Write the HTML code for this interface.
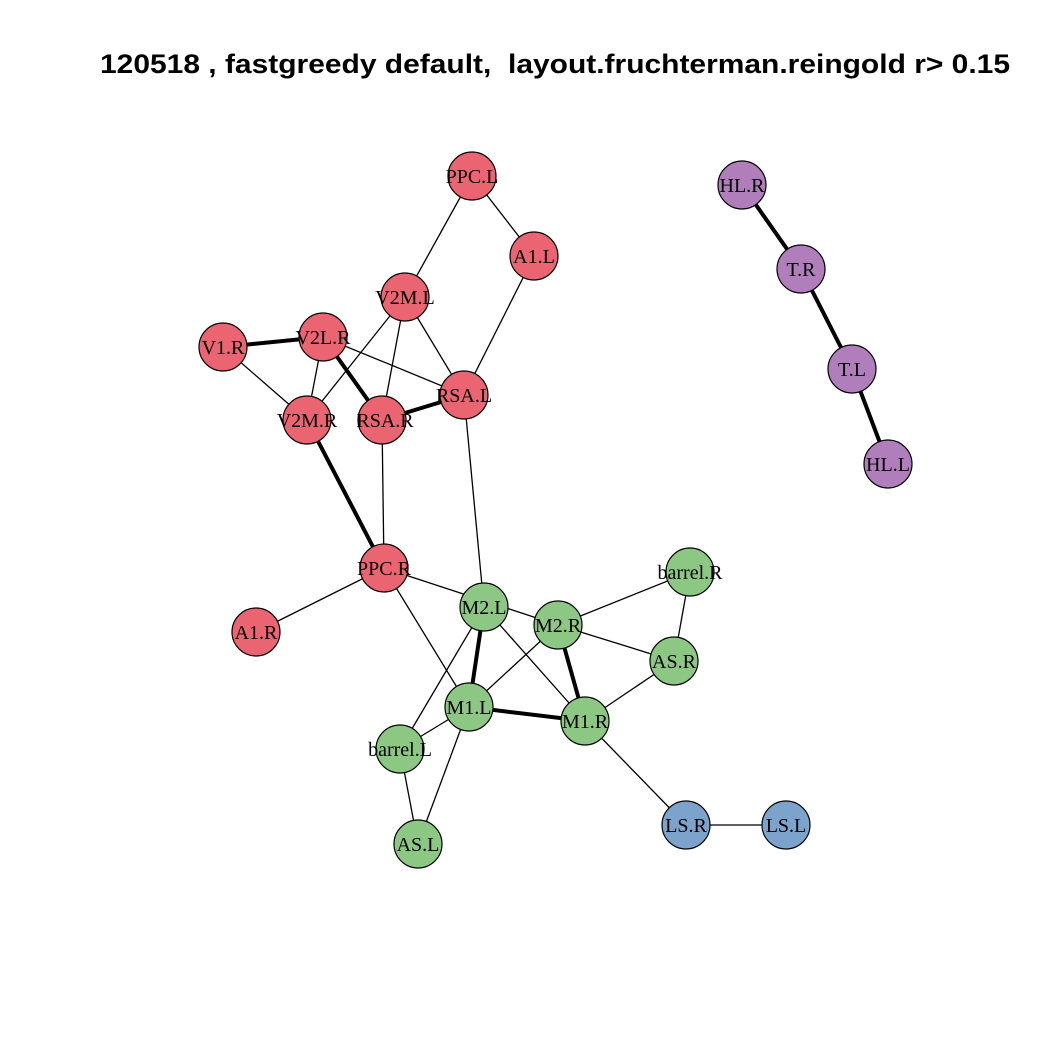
<!DOCTYPE html>
<html><head><meta charset="utf-8"><style>body{margin:0;background:#fff}svg{display:block}</style></head>
<body>
<svg width="1049" height="1049" viewBox="0 0 1049 1049" xmlns="http://www.w3.org/2000/svg">
<rect width="1049" height="1049" fill="#fff"/>
<text x="100" y="73" textLength="910" lengthAdjust="spacingAndGlyphs" xml:space="preserve" style="white-space:pre" font-family="Liberation Sans, sans-serif" font-weight="bold" font-size="27">120518 , fastgreedy default,  layout.fruchterman.reingold r&gt; 0.15</text>
<g stroke="#000" stroke-width="1.3">
<line x1="472" y1="176" x2="405" y2="297"/>
<line x1="472" y1="176" x2="534" y2="256"/>
<line x1="534" y1="256" x2="464" y2="395"/>
<line x1="405" y1="297" x2="464" y2="395"/>
<line x1="405" y1="297" x2="307" y2="420"/>
<line x1="405" y1="297" x2="382" y2="420"/>
<line x1="223" y1="347" x2="307" y2="420"/>
<line x1="323" y1="337" x2="464" y2="395"/>
<line x1="323" y1="337" x2="307" y2="420"/>
<line x1="464" y1="395" x2="484" y2="607"/>
<line x1="382" y1="420" x2="384" y2="568"/>
<line x1="384" y1="568" x2="256" y2="632"/>
<line x1="384" y1="568" x2="558" y2="625"/>
<line x1="384" y1="568" x2="469" y2="707"/>
<line x1="484" y1="607" x2="585" y2="721"/>
<line x1="484" y1="607" x2="400" y2="749"/>
<line x1="558" y1="625" x2="469" y2="707"/>
<line x1="558" y1="625" x2="690" y2="572"/>
<line x1="558" y1="625" x2="674" y2="661"/>
<line x1="690" y1="572" x2="674" y2="661"/>
<line x1="674" y1="661" x2="585" y2="721"/>
<line x1="469" y1="707" x2="400" y2="749"/>
<line x1="469" y1="707" x2="418" y2="844"/>
<line x1="400" y1="749" x2="418" y2="844"/>
<line x1="585" y1="721" x2="686" y2="825"/>
<line x1="686" y1="825" x2="786" y2="825"/>
</g>
<g stroke="#000" stroke-width="4">
<line x1="223" y1="347" x2="323" y2="337"/>
<line x1="323" y1="337" x2="382" y2="420"/>
<line x1="464" y1="395" x2="382" y2="420"/>
<line x1="307" y1="420" x2="384" y2="568"/>
<line x1="484" y1="607" x2="469" y2="707"/>
<line x1="558" y1="625" x2="585" y2="721"/>
<line x1="469" y1="707" x2="585" y2="721"/>
<line x1="742" y1="185" x2="801" y2="269"/>
<line x1="801" y1="269" x2="852" y2="369"/>
<line x1="852" y1="369" x2="888" y2="464"/>
</g>
<g stroke="#000" stroke-width="1.2">
<g fill="#EA6471">
<circle cx="472" cy="176" r="24"/><circle cx="534" cy="256" r="24"/><circle cx="405" cy="297" r="24"/>
<circle cx="323" cy="337" r="24"/><circle cx="223" cy="347" r="24"/><circle cx="464" cy="395" r="24"/>
<circle cx="307" cy="420" r="24"/><circle cx="382" cy="420" r="24"/><circle cx="384" cy="568" r="24"/>
<circle cx="256" cy="632" r="24"/>
</g>
<g fill="#8DC784">
<circle cx="690" cy="572" r="24"/><circle cx="484" cy="607" r="24"/><circle cx="558" cy="625" r="24"/>
<circle cx="674" cy="661" r="24"/><circle cx="469" cy="707" r="24"/><circle cx="585" cy="721" r="24"/>
<circle cx="400" cy="749" r="24"/><circle cx="418" cy="844" r="24"/>
</g>
<g fill="#7BA3CC"><circle cx="686" cy="825" r="24"/><circle cx="786" cy="825" r="24"/></g>
<g fill="#B07EBB">
<circle cx="742" cy="185" r="24"/><circle cx="801" cy="269" r="24"/><circle cx="852" cy="369" r="24"/><circle cx="888" cy="464" r="24"/>
</g>
</g>
<g font-family="Liberation Serif, serif" font-size="20" text-anchor="middle" fill="#000">
<text x="472" y="183">PPC.L</text><text x="534" y="263">A1.L</text><text x="405" y="304">V2M.L</text>
<text x="323" y="344">V2L.R</text><text x="223" y="354">V1.R</text><text x="464" y="402">RSA.L</text>
<text x="307" y="427">V2M.R</text><text x="385" y="427">RSA.R</text><text x="384" y="575">PPC.R</text>
<text x="256" y="639">A1.R</text>
<text x="690" y="579">barrel.R</text><text x="484" y="614">M2.L</text><text x="558" y="632">M2.R</text>
<text x="674" y="668">AS.R</text><text x="469" y="714">M1.L</text><text x="585" y="728">M1.R</text>
<text x="400" y="756">barrel.L</text><text x="418" y="851">AS.L</text>
<text x="686" y="832">LS.R</text><text x="786" y="832">LS.L</text>
<text x="742" y="192">HL.R</text><text x="801" y="276">T.R</text><text x="852" y="376">T.L</text><text x="888" y="471">HL.L</text>
</g>
</svg>
</body></html>
